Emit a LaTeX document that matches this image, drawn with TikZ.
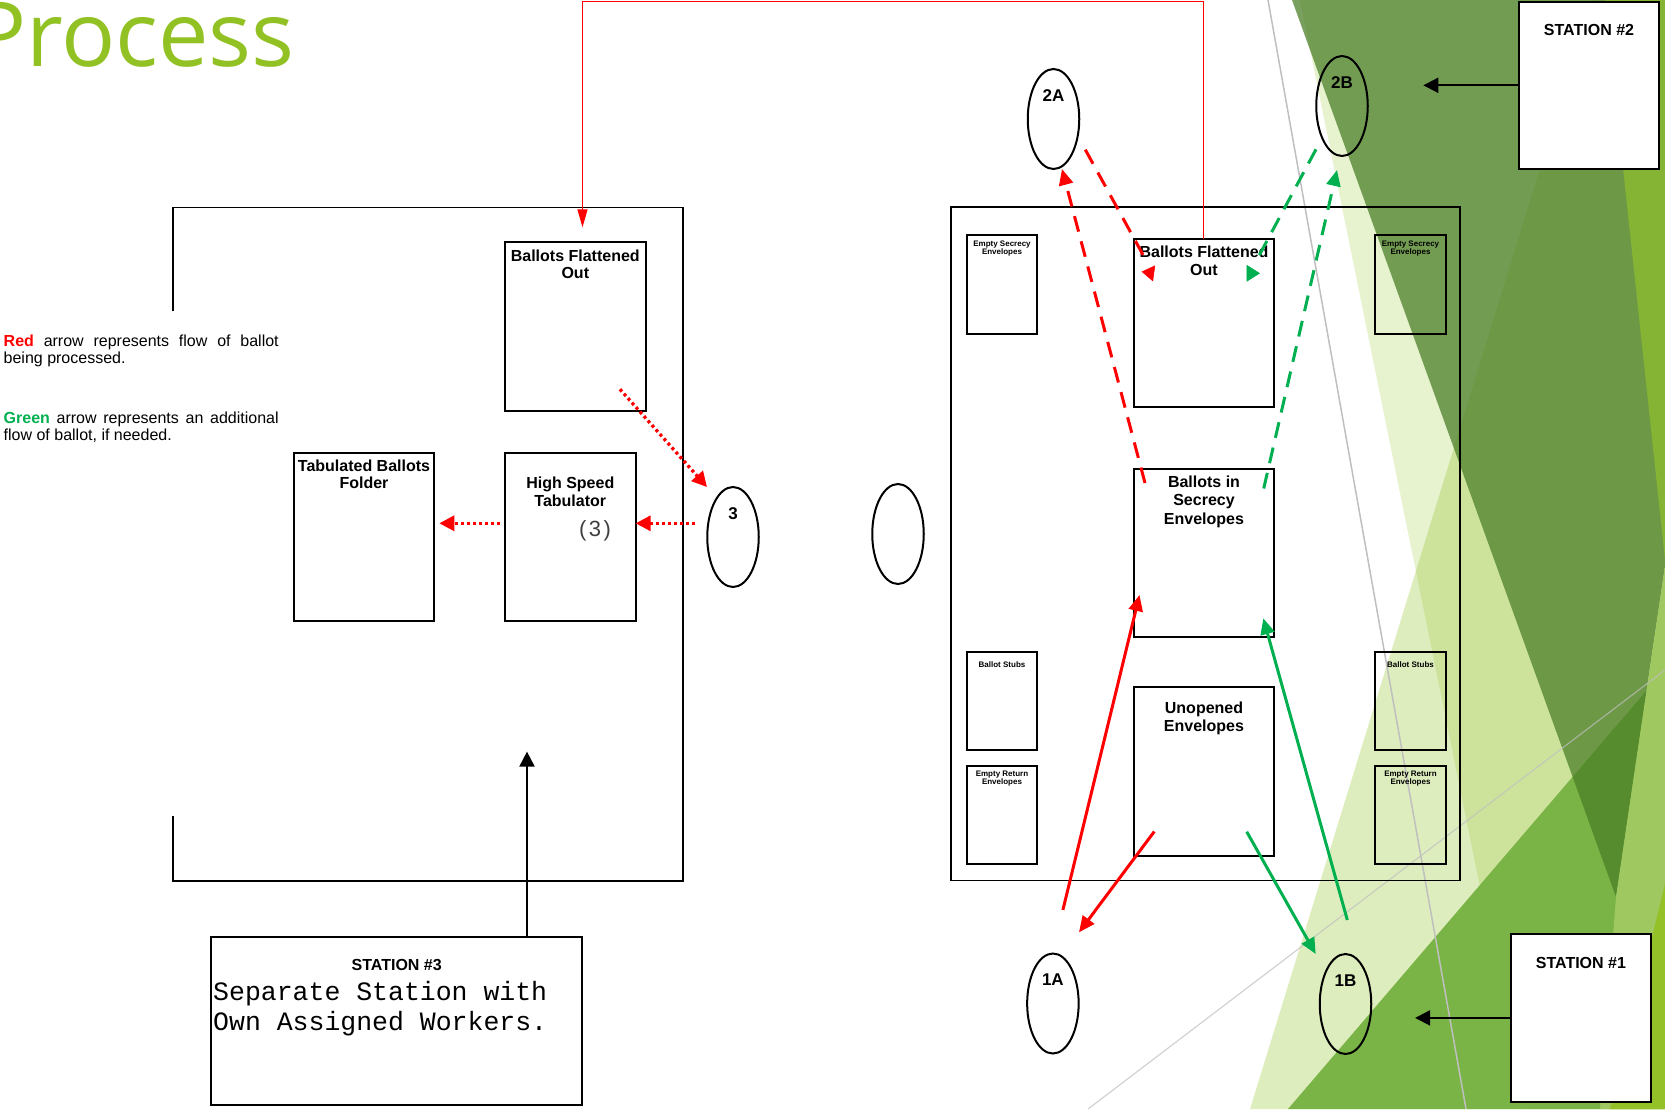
\documentclass[tikz,border=0pt]{standalone}
\usepackage{fontspec}
\setmainfont{Liberation Sans}
\newfontfamily\typewr{Liberation Mono}
\newfontfamily\headfont{Open Sans}
\usetikzlibrary{arrows.meta,shapes.geometric}

\definecolor{facetgreen}{RGB}{144,194,38}
\definecolor{titlegreen}{RGB}{146,193,36}
\definecolor{flowgreen}{RGB}{0,176,80}
\definecolor{facetdark}{RGB}{73,125,37}
\definecolor{facetmid}{RGB}{122,180,71}
\definecolor{facetlime}{RGB}{160,200,96}
\definecolor{facetbright}{RGB}{148,193,40}
\definecolor{facetwedge}{RGB}{133,180,52}
\definecolor{greyline}{RGB}{191,191,191}

\tikzset{
  deskline/.style={draw,line width=1.8pt},
  tray/.style={draw,line width=2pt,rectangle,inner sep=0pt,outer sep=0pt},
  bin/.style={tray,minimum width=70.6pt,minimum height=98.5pt},
  station/.style={tray,fill=white},
  seat/.style={draw,line width=2pt,ellipse,minimum width=51.5pt,minimum height=100pt,inner sep=0pt,outer sep=0pt},
  trayname/.style={font=\bfseries\fontsize{16}{17.7}\selectfont,align=center,anchor=base,inner sep=0pt},
  binname/.style={font=\bfseries\fontsize{8}{8.7}\selectfont,align=center,anchor=base,inner sep=0pt},
  seatname/.style={font=\bfseries\fontsize{17}{17}\selectfont,anchor=base,inner sep=0pt},
  legendtxt/.style={font=\fontsize{16}{16.7}\selectfont,align=left,anchor=base west,inner sep=0pt},
  redflow/.style={draw=red,line width=3pt,-{Triangle[length=16pt,width=14pt]}},
  greenflow/.style={draw=flowgreen,line width=3pt,-{Triangle[length=16pt,width=14pt]}},
  reddash/.style={redflow,dash pattern=on 16pt off 10pt},
  greendash/.style={greenflow,dash pattern=on 16pt off 10pt},
  dotflow/.style={draw=red,line width=3.3pt,dash pattern=on 3pt off 3pt,-{Triangle[length=15pt,width=15pt]}},
  redtip/.style={draw=red,line width=0.5pt,-{Triangle[length=12.5pt,width=16pt]}},
  greentip/.style={draw=flowgreen,line width=0.5pt,-{Triangle[length=13.3pt,width=16.7pt]}},
  redthin/.style={draw=red,line width=1.2pt,-{Triangle[length=18pt,width=10pt]}},
  blackflow/.style={draw,line width=2pt,-{Triangle[length=15pt,width=15pt]}}
}

\begin{document}
\begin{tikzpicture}[x=1pt,y=-1pt]
\useasboundingbox (0,0) rectangle (1665,1109);
\clip (0,0) rectangle (1665,1109);

\fill[facetgreen,opacity=0.22] (1300,0) -- (1665,0) -- (1665,1109) -- (1525,1109) -- cycle;
\fill[facetgreen,opacity=0.30] (1250,1109) -- (1592,0) -- (1665,0) -- (1665,1109) -- cycle;
\fill[facetmid] (1288,1109) -- (1665,669) -- (1665,1109) -- cycle;
\fill[facetdark,opacity=0.73] (1292,0) -- (1665,0) -- (1665,566) -- (1616,897) -- cycle;
\fill[facetwedge] (1605,0) -- (1665,0) -- (1665,560) -- cycle;
\fill[facetlime] (1665,566) -- (1616,897) -- (1600,1109) -- (1665,1109) -- cycle;
\fill[facetbright] (1665,884) -- (1610,1109) -- (1665,1109) -- cycle;
\draw[greyline,line width=1.5pt] (1268,0) -- (1466,1109);
\draw[greyline,line width=1.2pt,opacity=0.7] (1088,1109) -- (1665,670);

\node[anchor=base west,inner sep=0pt,font=\headfont\fontsize{90}{90}\selectfont,text=titlegreen] (title) at (-28,66) {Process};

\node[legendtxt] (keyred) at (3.5,363.3) {\makebox[275pt][s]{\textcolor{red}{\bfseries Red} arrow represents flow of ballot}\\being processed.};
\node[legendtxt] (keygreen) at (3.5,440) {\makebox[275pt][s]{\textcolor{flowgreen}{\bfseries Green} arrow represents an additional}\\flow of ballot, if needed.};

\draw[deskline] (173.2,311) -- (173.2,207.5) -- (683.2,207.5) -- (683.2,881) -- (173.2,881) -- (173.2,816);
\draw[deskline] (951,207.3) rectangle (1460,880.5);

\node[tray,minimum width=140.7pt,minimum height=168.3pt] (bfoL) at (575.3,326.5) {};
\node[tray,minimum width=130.7pt,minimum height=168pt] (hst) at (570.3,537) {};
\node[tray,minimum width=140.6pt,minimum height=168pt] (tbf) at (364,537) {};
\node[tray,minimum width=140.3pt,minimum height=168pt] (bfoR) at (1203.8,323.3) {};
\node[tray,minimum width=140pt,minimum height=167.4pt] (bse) at (1204,553) {};
\node[tray,minimum width=140pt,minimum height=168.4pt] (ue) at (1204,771.5) {};

\node[trayname] (bfoLt) at (575.3,278.7) {Ballots Flattened\\Out};
\node[trayname] (hstt) at (570.3,506) {High Speed\\Tabulator};
\node[anchor=base,inner sep=0pt,font=\fontsize{22}{22}\selectfont,text=black!75] (hstnum) at (595,536) {(\kern2.5pt3\kern2.5pt)};
\node[trayname] (tbft) at (364,488.7) {Tabulated Ballots\\Folder};
\node[trayname] (bfoRt) at (1204,275) {Ballots Flattened\\Out};
\node[trayname,font=\bfseries\fontsize{16}{18.5}\selectfont] (bset) at (1204,524) {Ballots in\\Secrecy\\Envelopes};
\node[trayname] (uet) at (1204,731) {Unopened\\Envelopes};

\node[bin] (esL) at (1002,284.7) {};
\node[bin] (esR) at (1410.5,284.7) {};
\node[bin] (bsL) at (1002,700.8) {};
\node[bin] (bsR) at (1410.5,700.8) {};
\node[bin] (erL) at (1002,815) {};
\node[bin] (erR) at (1410.5,815) {};
\node[binname] (esLt) at (1002,254.7) {Empty Secrecy\\Envelopes};
\node[binname] (esRt) at (1410.5,254.7) {Empty Secrecy\\Envelopes};
\node[binname] (bsLt) at (1002,667.7) {Ballot Stubs};
\node[binname] (bsRt) at (1410.5,667.7) {Ballot Stubs};
\node[binname] (erLt) at (1002,784.7) {Empty Return\\Envelopes};
\node[binname] (erRt) at (1410.5,784.7) {Empty Return\\Envelopes};

\node[seat] (e3) at (733,537) {};
\node[seat] (eMid) at (898,534) {};
\node[seat] (e2A) at (1053.5,119) {};
\node[seat] (e2B) at (1342,106) {};
\node[seat] (e1A) at (1052.9,1003.5) {};
\node[seat] (e1B) at (1345.5,1004) {};
\node[seatname] (e3t) at ([yshift=18pt]e3.center) {3};
\node[seatname] (e2At) at ([yshift=18pt]e2A.center) {2A};
\node[seatname] (e2Bt) at ([yshift=18pt]e2B.center) {2B};
\node[seatname] (e1At) at ([yshift=18pt]e1A.center) {1A};
\node[seatname] (e1Bt) at ([yshift=18pt]e1B.center) {1B};

\node[station,minimum width=140pt,minimum height=167.3pt] (st2) at (1589,85.3) {};
\node[station,minimum width=140.3pt,minimum height=167.7pt] (st1) at (1580.9,1017.9) {};
\node[station,minimum width=371.3pt,minimum height=168.3pt] (st3) at (396.7,1020.8) {};
\node[trayname] (st2t) at (1589,35) {STATION \#2};
\node[trayname] (st1t) at (1580.9,968.5) {STATION \#1};
\node[trayname] (st3t) at (396.7,970.5) {STATION \#3};
\node[anchor=base west,inner sep=0pt,align=left,font=\typewr\fontsize{26.5}{30}\selectfont] (st3note) at (213,1030) {Separate Station with\\Own Assigned Workers.};

\draw[dotflow] ([xshift=-25.7pt,yshift=21.4pt]bfoL.south east) -- ([xshift=-26pt,yshift=50pt]e3.center);
\draw[dotflow] ([xshift=-12pt,yshift=13.7pt]e3.west) -- ([yshift=13.7pt]hst.east);
\draw[dotflow] ([xshift=-5pt,yshift=13.7pt]hst.west) -- ([xshift=5pt,yshift=13.7pt]tbf.east);

\coordinate (rtop) at (582.5,1.5);
\draw[redthin] (bfoR.north) |- (rtop) -- ([xshift=7.2pt,yshift=15pt]bfoL.north);

\coordinate (deskin) at (527,751.6);
\draw[blackflow] ([xshift=130.3pt]st3.north) -- (deskin);
\draw[blackflow] (st2.west) -- ([xshift=-95.7pt]st2.west);
\draw[blackflow] (st1.west) -- ([xshift=-95.7pt]st1.west);

\draw[reddash,-] ([xshift=31.8pt,yshift=-30.7pt]e2A.center) -- ([xshift=13.3pt,yshift=-22.7pt]bfoR.north west);
\draw[redtip] ([xshift=20.5pt,yshift=-34.1pt]bfoR.north west) -- ([xshift=8pt,yshift=-32.4pt]bfoR.north west);
\draw[greendash,-] ([xshift=-26pt,yshift=-43.3pt]e2B.center) -- ([xshift=-19pt,yshift=-24pt]bfoR.north east);
\draw[greentip] ([xshift=-27.3pt,yshift=-34pt]bfoR.north east) -- ([xshift=-14pt,yshift=-34pt]bfoR.north east);
\draw[reddash] ([xshift=11pt,yshift=-13.7pt]bse.north west) -- ([xshift=8.5pt]e2A.south);
\draw[greendash] ([xshift=-10.3pt,yshift=-19.2pt]bse.north east) -- ([xshift=-5pt,yshift=-14pt]e2B.south);
\draw[redflow] ([xshift=10pt,yshift=43.6pt]e1A.north) -- ([xshift=5.5pt,yshift=41.7pt]bse.south west);
\draw[redflow] ([xshift=20.3pt,yshift=24.2pt]ue.south west) -- ([xshift=26.1pt,yshift=21.2pt]e1A.north);
\draw[greenflow] ([xshift=-27.3pt,yshift=24pt]ue.south east) -- ([xshift=-29.8pt]e1B.north);
\draw[greenflow] ([xshift=1.8pt,yshift=34pt]e1B.north) -- ([xshift=-10.7pt,yshift=18.4pt]bse.south east);
\end{tikzpicture}
\end{document}
